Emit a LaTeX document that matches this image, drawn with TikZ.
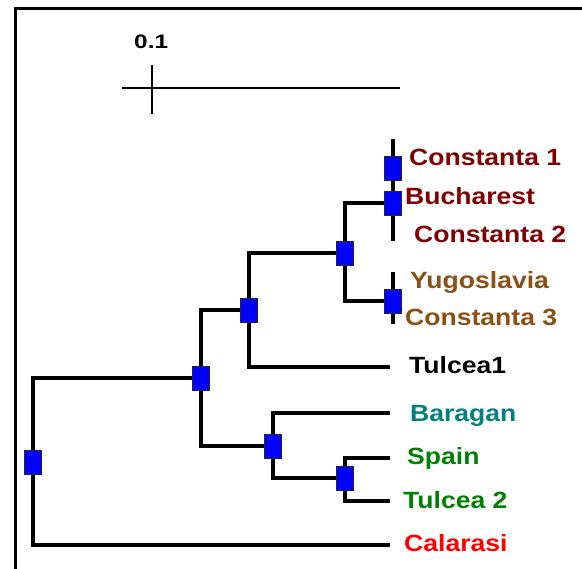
\documentclass[tikz,border=0pt]{standalone}
\usepackage{fontspec}
\setmainfont{Liberation Sans}
\definecolor{cdred}{RGB}{128,0,0}
\definecolor{cbrown}{RGB}{140,80,20}
\definecolor{cteal}{RGB}{0,128,128}
\definecolor{cgreen}{RGB}{0,128,0}
\definecolor{cred}{RGB}{255,0,0}
\definecolor{cblue}{RGB}{0,0,255}
\pgfdeclarelayer{bg}
\pgfdeclarelayer{lines}
\pgfsetlayers{bg,lines,main}
\newcommand{\lbltext}[1]{\scalebox{1.13}[1]{#1}}
\begin{document}
\begin{tikzpicture}[x=1pt,y=-1pt,
  tree/.style={line width=3.3pt, line join=miter},
  bx/.style={rectangle, draw=black!85, line width=0.8pt, fill=cblue, minimum width=17pt, minimum height=24pt, inner sep=0pt},
  leaf/.style={anchor=base west, inner sep=0pt, font=\fontsize{23.5}{23.5}\selectfont\bfseries},
]
\useasboundingbox (0,0) rectangle (582,569);
\begin{pgfonlayer}{bg}
\fill[white] (0,0) rectangle (582,569);
\draw[line width=3pt] (15,575) -- (15,9) -- (590,9);
\end{pgfonlayer}

% scale bar
\coordinate (sbL) at (122,88);
\coordinate (sbR) at (400,88);
\coordinate (tkT) at (152,65);
\coordinate (tkB) at (152,114);
\draw[line width=2.3pt] (sbL) -- (sbR);
\draw[line width=2.3pt] (tkT) -- (tkB);
\node[anchor=base west, inner sep=0pt, font=\fontsize{19.5}{19.5}\selectfont\bfseries] (scl) at (134,49) {\scalebox{1.25}[1]{0.1}};

% internal nodes (boxes)
\node[bx] (r) at (33,462) {};
\node[bx] (A) at (201,378) {};
\node[bx] (B) at (249,310) {};
\node[bx] (C) at (345,253) {};
\node[bx] (D1) at (393,168) {};
\node[bx] (D) at (393,203) {};
\node[bx] (E) at (393,301) {};
\node[bx] (F) at (273,446) {};
\node[bx] (G) at (345,478) {};

% leaf ends
\coordinate (calE) at (390,545);
\coordinate (tulE) at (390,367);
\coordinate (barE) at (390,413);
\coordinate (spE) at (390,458);
\coordinate (t2E) at (390,501);
\coordinate (dT) at (393,139);
\coordinate (dB) at (393,241);
\coordinate (eT) at (393,272);
\coordinate (eB) at (393,324);

\begin{pgfonlayer}{lines}
\draw[tree] (r) |- (A);
\draw[tree] (r) |- (calE);
\draw[tree] (A) |- (B);
\draw[tree] (A) |- (F);
\draw[tree] (B) |- (C);
\draw[tree] (B) |- (tulE);
\draw[tree] (C) |- (D);
\draw[tree] (C) |- (E);
\draw[tree] (dT) -- (dB);
\draw[tree] (eT) -- (eB);
\draw[tree] (F) |- (barE);
\draw[tree] (F) |- (G);
\draw[tree] (G) |- (spE);
\draw[tree] (G) |- (t2E);
\end{pgfonlayer}

% labels
\node[leaf, text=cdred] (l1) at (409,166) {\lbltext{Constanta 1}};
\node[leaf, text=cdred] (l2) at (405,205) {\lbltext{Bucharest}};
\node[leaf, text=cdred] (l3) at (414,243) {\lbltext{Constanta 2}};
\node[leaf, text=cbrown] (l4) at (410,289) {\lbltext{Yugoslavia}};
\node[leaf, text=cbrown] (l5) at (405,326) {\lbltext{Constanta 3}};
\node[leaf, text=black] (l6) at (409,374) {\lbltext{Tulcea1}};
\node[leaf, text=cteal] (l7) at (410,422) {\lbltext{Baragan}};
\node[leaf, text=cgreen] (l8) at (407,465) {\lbltext{Spain}};
\node[leaf, text=cgreen] (l9) at (403,509) {\lbltext{Tulcea 2}};
\node[leaf, text=cred] (l10) at (404,552) {\lbltext{Calarasi}};
\end{tikzpicture}
\end{document}
